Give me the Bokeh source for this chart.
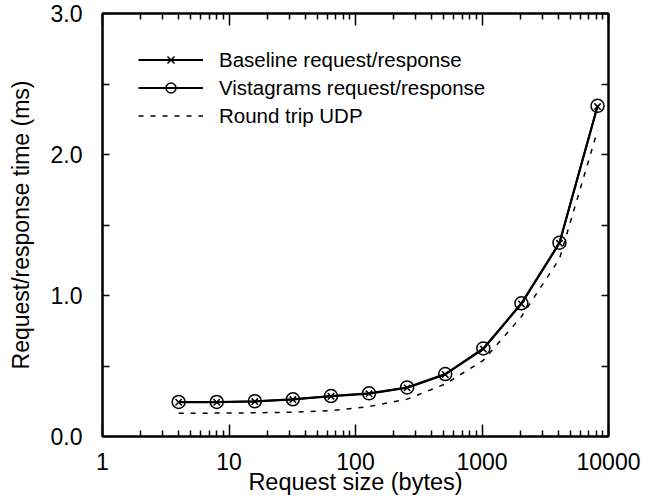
from bokeh.plotting import figure
from bokeh.models import (LinearAxis, LogAxis, FixedTicker, CustomJSTickFormatter,
                          PrintfTickFormatter, Legend, LegendItem, Range1d)
from bokeh.embed import file_html
from bokeh.resources import INLINE

# ---- data ----
sizes = [4, 8, 16, 32, 64, 128, 256, 512, 1024, 2048, 4096, 8192]
baseline = [0.243, 0.243, 0.248, 0.262, 0.285, 0.303, 0.345, 0.440, 0.620, 0.940, 1.370, 2.340]
vistagrams = [0.245, 0.245, 0.250, 0.264, 0.287, 0.306, 0.348, 0.443, 0.625, 0.945, 1.375, 2.345]
udp = [0.165, 0.166, 0.168, 0.172, 0.184, 0.212, 0.265, 0.372, 0.540, 0.850, 1.260, 2.170]

x_major = [1, 10, 100, 1000, 10000]
x_minor = [m * 10 ** e for e in range(4) for m in range(2, 10)]
y_major = [0, 1, 2, 3]
y_minor = [0.5, 1.5, 2.5]

FONT = "Liberation Sans"

p = figure(width=652, height=498, x_axis_type="log",
           x_range=Range1d(1, 10000), y_range=Range1d(0, 3),
           output_backend="svg", toolbar_location=None,
           min_border_left=102, min_border_right=44, min_border_top=13,
           min_border_bottom=62)

p.background_fill_color = "white"
p.border_fill_color = "white"
p.xgrid.visible = False
p.ygrid.visible = False
p.outline_line_color = "black"
p.outline_line_width = 2

xticker = FixedTicker(ticks=x_major, minor_ticks=x_minor)
yticker = FixedTicker(ticks=y_major, minor_ticks=y_minor)


def style_x(ax, labels=True):
    ax.ticker = xticker
    ax.major_tick_in = 12
    ax.major_tick_out = 0
    ax.minor_tick_in = 6
    ax.minor_tick_out = 0
    ax.major_tick_line_width = 1.5
    ax.minor_tick_line_width = 1.5
    ax.axis_line_width = 2
    if labels:
        ax.formatter = CustomJSTickFormatter(code="return tick.toFixed(0);")
        ax.major_label_text_font = FONT
        ax.major_label_text_font_size = "23px"
        ax.major_label_text_color = "black"
        ax.major_label_standoff = 16
    else:
        ax.major_label_text_font_size = "1px"
        ax.major_label_text_alpha = 0
        ax.major_label_standoff = 0


def style_y(ax, labels=True):
    ax.ticker = yticker
    ax.major_tick_in = 7
    ax.major_tick_out = 0
    ax.minor_tick_in = 7
    ax.minor_tick_out = 0
    ax.major_tick_line_width = 1.5
    ax.minor_tick_line_width = 1.5
    ax.axis_line_width = 2
    if labels:
        ax.formatter = PrintfTickFormatter(format="%.1f")
        ax.major_label_text_font = FONT
        ax.major_label_text_font_size = "23px"
        ax.major_label_text_color = "black"
        ax.major_label_standoff = 20
    else:
        ax.major_label_text_font_size = "1px"
        ax.major_label_text_alpha = 0
        ax.major_label_standoff = 0


xa = p.xaxis[0]
style_x(xa)
xa.axis_label = "Request size (bytes)"
xa.axis_label_text_font = FONT
xa.axis_label_text_font_size = "23.5px"
xa.axis_label_text_font_style = "normal"
xa.axis_label_text_color = "black"
xa.axis_label_standoff = -4

ya = p.yaxis[0]
style_y(ya)
ya.axis_label = "Request/response time (ms)"
ya.axis_label_text_font = FONT
ya.axis_label_text_font_size = "23px"
ya.axis_label_text_font_style = "normal"
ya.axis_label_text_color = "black"
ya.axis_label_standoff = 14

top = LogAxis()
style_x(top, labels=False)
p.add_layout(top, "above")
right = LinearAxis()
style_y(right, labels=False)
p.add_layout(right, "right")

# ---- series ----
udp_line = p.line(sizes, udp, line_color="black", line_width=1.5, line_dash="5 7")

base_line = p.line(sizes, baseline, line_color="black", line_width=2)
base_pts = p.scatter(sizes, baseline, marker="x", size=9, line_color="black",
                     line_width=1.5)

vis_line = p.line(sizes, vistagrams, line_color="black", line_width=2)
vis_pts = p.scatter(sizes, vistagrams, marker="circle", size=13, fill_color=None,
                    line_color="black", line_width=1.5)

legend = Legend(items=[
    LegendItem(label="Baseline request/response", renderers=[base_line, base_pts]),
    LegendItem(label="Vistagrams request/response", renderers=[vis_line, vis_pts]),
    LegendItem(label="Round trip UDP", renderers=[udp_line]),
], location=(36, 308))
legend.glyph_width = 65
legend.glyph_height = 25
legend.label_height = 25
legend.spacing = 3
legend.padding = 0
legend.margin = 0
legend.label_standoff = 16
legend.label_text_font = FONT
legend.label_text_font_size = "20.5px"
legend.label_text_color = "black"
legend.border_line_color = None
legend.background_fill_color = None
p.add_layout(legend, "center")

open("out.html", "w").write(file_html(p, INLINE))
